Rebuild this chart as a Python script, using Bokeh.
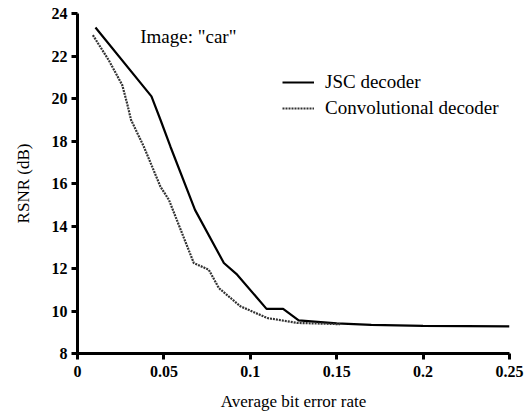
from bokeh.plotting import figure
from bokeh.models import FixedTicker, Legend, LegendItem, Range1d, Label
from bokeh.embed import file_html
from bokeh.resources import INLINE

# Data
jsc_x = [0.0104, 0.0428, 0.048, 0.0538, 0.068, 0.0847, 0.0924, 0.1094, 0.119, 0.128, 0.15, 0.17, 0.2, 0.25]
jsc_y = [23.34, 20.1, 19.0, 17.73, 14.76, 12.26, 11.71, 10.1, 10.1, 9.56, 9.42, 9.35, 9.3, 9.28]

conv_x = [0.0089, 0.0181, 0.0259, 0.0287, 0.031, 0.0384, 0.048, 0.0529, 0.0635, 0.0673, 0.076, 0.0818, 0.0943, 0.1098, 0.127, 0.152]
conv_y = [22.98, 21.8, 20.63, 19.77, 18.99, 17.73, 15.85, 15.23, 13.04, 12.26, 11.94, 11.08, 10.22, 9.67, 9.44, 9.38]

x_ticks = [0, 0.05, 0.1, 0.15, 0.2, 0.25]
x_tick_labels = ["0", "0.05", "0.1", "0.15", "0.2", "0.25"]
y_ticks = [8, 10, 12, 14, 16, 18, 20, 22, 24]

series_names = ["JSC decoder", "Convolutional decoder"]
annotation = 'Image: "car"'

FONT = "Liberation Serif"

p = figure(width=525, height=413, output_backend="svg", toolbar_location=None,
           x_range=Range1d(0, 0.25), y_range=Range1d(8, 24),
           min_border_left=77, min_border_right=16, min_border_top=13, min_border_bottom=59)
p.outline_line_color = None
p.xgrid.visible = False
p.ygrid.visible = False
p.background_fill_color = "white"

r1 = p.line(jsc_x, jsc_y, line_color="black", line_width=2.2)
r2 = p.line(conv_x, conv_y, line_color="#333333", line_width=2.2, line_dash="2 1")

for ax in (p.xaxis[0], p.yaxis[0]):
    ax.axis_line_width = 3
    ax.axis_line_color = "black"
    ax.major_tick_line_width = 3
    ax.major_tick_out = 6
    ax.major_tick_in = 0
    ax.minor_tick_line_color = None
    ax.major_label_text_font = FONT
    ax.major_label_text_font_style = "bold"
    ax.major_label_text_font_size = "16px"
    ax.major_label_text_color = "black"
    ax.axis_label_text_font = FONT
    ax.axis_label_text_font_style = "normal"
    ax.axis_label_text_font_size = "17px"
    ax.axis_label_text_color = "black"

p.xaxis.ticker = FixedTicker(ticks=x_ticks)
p.xaxis.major_label_overrides = {t: l for t, l in zip(x_ticks, x_tick_labels)}
p.yaxis.ticker = FixedTicker(ticks=y_ticks)
p.xaxis.axis_label = "Average bit error rate"
p.yaxis.axis_label = "RSNR (dB)"
p.xaxis.axis_label_standoff = 12
p.yaxis.axis_label_standoff = 16
p.xaxis.major_label_standoff = 6
p.yaxis.major_label_standoff = 4

legend = Legend(items=[LegendItem(label=series_names[0], renderers=[r1]),
                       LegendItem(label=series_names[1], renderers=[r2])],
                location=(205, 234))
legend.border_line_color = None
legend.background_fill_alpha = 0
legend.label_text_font = FONT
legend.label_text_font_size = "19px"
legend.label_text_color = "black"
legend.glyph_width = 32
legend.spacing = 4
legend.label_standoff = 11
legend.padding = 0
p.add_layout(legend)

p.add_layout(Label(x=0.0363, y=22.9, text=annotation, text_font=FONT,
                   text_font_size="19px", text_color="black", text_baseline="middle"))

open("out.html", "w").write(file_html(p, INLINE))
